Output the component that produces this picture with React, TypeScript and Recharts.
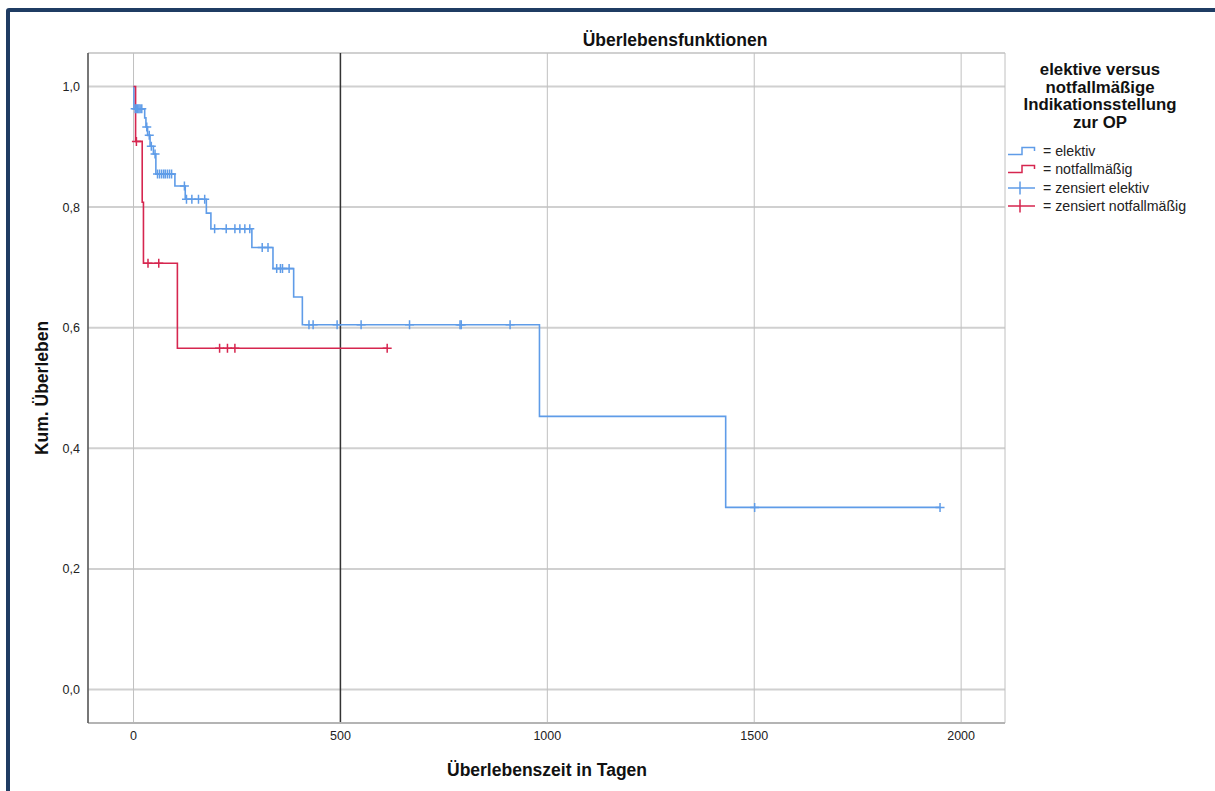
import {
  CartesianGrid,
  ComposedChart,
  Line,
  ReferenceLine,
  Scatter,
  XAxis,
  YAxis,
} from "recharts";

const FONT = '"Liberation Sans", Arial, sans-serif';
const BLAU = "#5f9ce8";
const ROT = "#d6264f";

// Kaplan-Meier Stufen: Tag des Ereignisses und Überleben danach
const elektivTage = [0, 1, 27, 30, 34, 40, 48, 54, 100, 125, 176, 187, 286, 337, 387, 408, 981, 1431, 1949];
const elektivUeberleben = [1.0, 0.963, 0.948, 0.933, 0.919, 0.901, 0.888, 0.855, 0.835, 0.813, 0.79, 0.764, 0.733, 0.698, 0.651, 0.605, 0.453, 0.302, 0.302];

const notfallTage = [0, 5, 21, 24, 106, 613];
const notfallUeberleben = [1.0, 0.909, 0.808, 0.707, 0.566, 0.566];

// zensierte Fälle (Tage)
const zensiertElektiv = [
  4, 7, 10, 13, 16, 20, 32, 38, 43, 52, 58, 63, 68, 73, 77, 82, 87, 92, 123, 128, 141, 157, 172,
  196, 224, 245, 257, 269, 281, 311, 325, 346, 355, 360, 376, 424, 434, 492, 550, 667, 789, 792,
  910, 1501, 1949,
];
const zensiertNotfall = [7, 35, 61, 208, 227, 245, 613];

const yTicks = [0, 0.2, 0.4, 0.6, 0.8, 1.0];
const xTicks = [0, 500, 1000, 1500, 2000];

const legendTitel = ["elektive versus", "notfallmäßige", "Indikationsstellung", "zur OP"];
const legendEintraege = [
  { label: "= elektiv", color: BLAU, kind: "step" },
  { label: "= notfallmäßig", color: ROT, kind: "step" },
  { label: "= zensiert elektiv", color: BLAU, kind: "cross" },
  { label: "= zensiert notfallmäßig", color: ROT, kind: "cross" },
];

const stufen = (tage: number[], werte: number[]) => tage.map((t, i) => ({ t, s: werte[i] }));

const wertAm = (tage: number[], werte: number[], tag: number) => {
  let s = werte[0];
  tage.forEach((t, i) => {
    if (t <= tag) s = werte[i];
  });
  return s;
};

const elektivDaten = stufen(elektivTage, elektivUeberleben);
const notfallDaten = stufen(notfallTage, notfallUeberleben);
const zensElektivDaten = zensiertElektiv.map((t) => ({ t, s: wertAm(elektivTage, elektivUeberleben, t) }));
const zensNotfallDaten = zensiertNotfall.map((t) => ({ t, s: wertAm(notfallTage, notfallUeberleben, t) }));

function Kreuz({ cx, cy, color }: { cx?: number; cy?: number; color: string }) {
  if (cx == null || cy == null) return null;
  return (
    <path
      d={`M${cx - 4.5},${cy}h9M${cx},${cy - 4.5}v9`}
      stroke={color}
      strokeWidth={1.5}
      fill="none"
    />
  );
}

function LegendIcon({ kind, color }: { kind: string; color: string }) {
  return (
    <svg width={28} height={14} style={{ display: "block" }}>
      {kind === "step" ? (
        <path d="M0,10.5H14V3.5H26.5V7" stroke={color} strokeWidth={1.5} fill="none" />
      ) : (
        <path d="M0,7H27M12,0.5V13.5" stroke={color} strokeWidth={1.5} fill="none" />
      )}
    </svg>
  );
}

export default function App() {
  return (
    <div
      style={{
        position: "absolute",
        left: 0,
        top: 0,
        width: 1215,
        height: 791,
        overflow: "hidden",
        background: "#fff",
        fontFamily: FONT,
      }}
    >
      <div
        style={{
          position: "absolute",
          left: 6,
          top: 8,
          width: 1300,
          height: 900,
          border: "4px solid #1f3c63",
          borderRadius: 3,
        }}
      />
      <div style={{ position: "absolute", left: 0, top: 0 }}>
        <ComposedChart width={1215} height={791} margin={{ top: 53, right: 210, bottom: 38, left: 0 }}>
          <CartesianGrid horizontal vertical={false} stroke="#d0d0d0" strokeWidth={2} />
          <CartesianGrid horizontal={false} vertical stroke="#c0c0c0" strokeWidth={1} />
          <XAxis
            type="number"
            dataKey="t"
            domain={[-110, 2106]}
            ticks={xTicks}
            allowDataOverflow
            height={30}
            tickLine={false}
            axisLine={{ stroke: "#b4b4b4", strokeWidth: 2 }}
            tick={{ fill: "#222", fontSize: 12.5, fontFamily: FONT }}
          />
          <YAxis
            type="number"
            dataKey="s"
            domain={[-0.0556, 1.0556]}
            ticks={yTicks}
            allowDataOverflow
            width={88}
            tickLine={false}
            axisLine={{ stroke: "#555", strokeWidth: 1.5 }}
            tickFormatter={(v: number) => v.toFixed(1).replace(".", ",")}
            tick={{ fill: "#222", fontSize: 12.5, fontFamily: FONT }}
          />
          <ReferenceLine x={500} stroke="#333" strokeWidth={1.5} />
          <Line
            data={elektivDaten}
            dataKey="s"
            type="stepAfter"
            stroke={BLAU}
            strokeWidth={1.6}
            dot={false}
            isAnimationActive={false}
          />
          <Line
            data={notfallDaten}
            dataKey="s"
            type="stepAfter"
            stroke={ROT}
            strokeWidth={1.6}
            dot={false}
            isAnimationActive={false}
          />
          <Scatter
            data={zensElektivDaten}
            dataKey="s"
            isAnimationActive={false}
            shape={(p: any) => <Kreuz cx={p.cx} cy={p.cy} color={BLAU} />}
          />
          <Scatter
            data={zensNotfallDaten}
            dataKey="s"
            isAnimationActive={false}
            shape={(p: any) => <Kreuz cx={p.cx} cy={p.cy} color={ROT} />}
          />
        </ComposedChart>
      </div>

      <div
        style={{
          position: "absolute",
          left: 475,
          width: 400,
          top: 29,
          textAlign: "center",
          fontSize: 17.5,
          fontWeight: "bold",
          color: "#111",
          lineHeight: "22px",
        }}
      >
        Überlebensfunktionen
      </div>
      <div
        style={{
          position: "absolute",
          left: 347,
          width: 400,
          top: 759,
          textAlign: "center",
          fontSize: 17.5,
          fontWeight: "bold",
          color: "#111",
          lineHeight: "22px",
        }}
      >
        Überlebenszeit in Tagen
      </div>
      <div
        style={{
          position: "absolute",
          left: 42,
          top: 388,
          transform: "translate(-50%, -50%) rotate(-90deg)",
          whiteSpace: "nowrap",
          fontSize: 17.5,
          fontWeight: "bold",
          color: "#111",
          lineHeight: "22px",
        }}
      >
        Kum. Überleben
      </div>

      <div
        style={{
          position: "absolute",
          left: 1000,
          width: 200,
          top: 61,
          textAlign: "center",
          fontSize: 16.8,
          fontWeight: "bold",
          color: "#111",
          lineHeight: "17.7px",
        }}
      >
        {legendTitel.map((z) => (
          <div key={z} style={{ height: 17.7 }}>
            {z}
          </div>
        ))}
      </div>
      <div style={{ position: "absolute", left: 1008, top: 142 }}>
        {legendEintraege.map((e) => (
          <div
            key={e.label}
            style={{ display: "flex", alignItems: "center", height: 18.3, fontSize: 14.2, color: "#222" }}
          >
            <LegendIcon kind={e.kind} color={e.color} />
            <span style={{ marginLeft: 7, whiteSpace: "nowrap" }}>{e.label}</span>
          </div>
        ))}
      </div>
    </div>
  );
}
